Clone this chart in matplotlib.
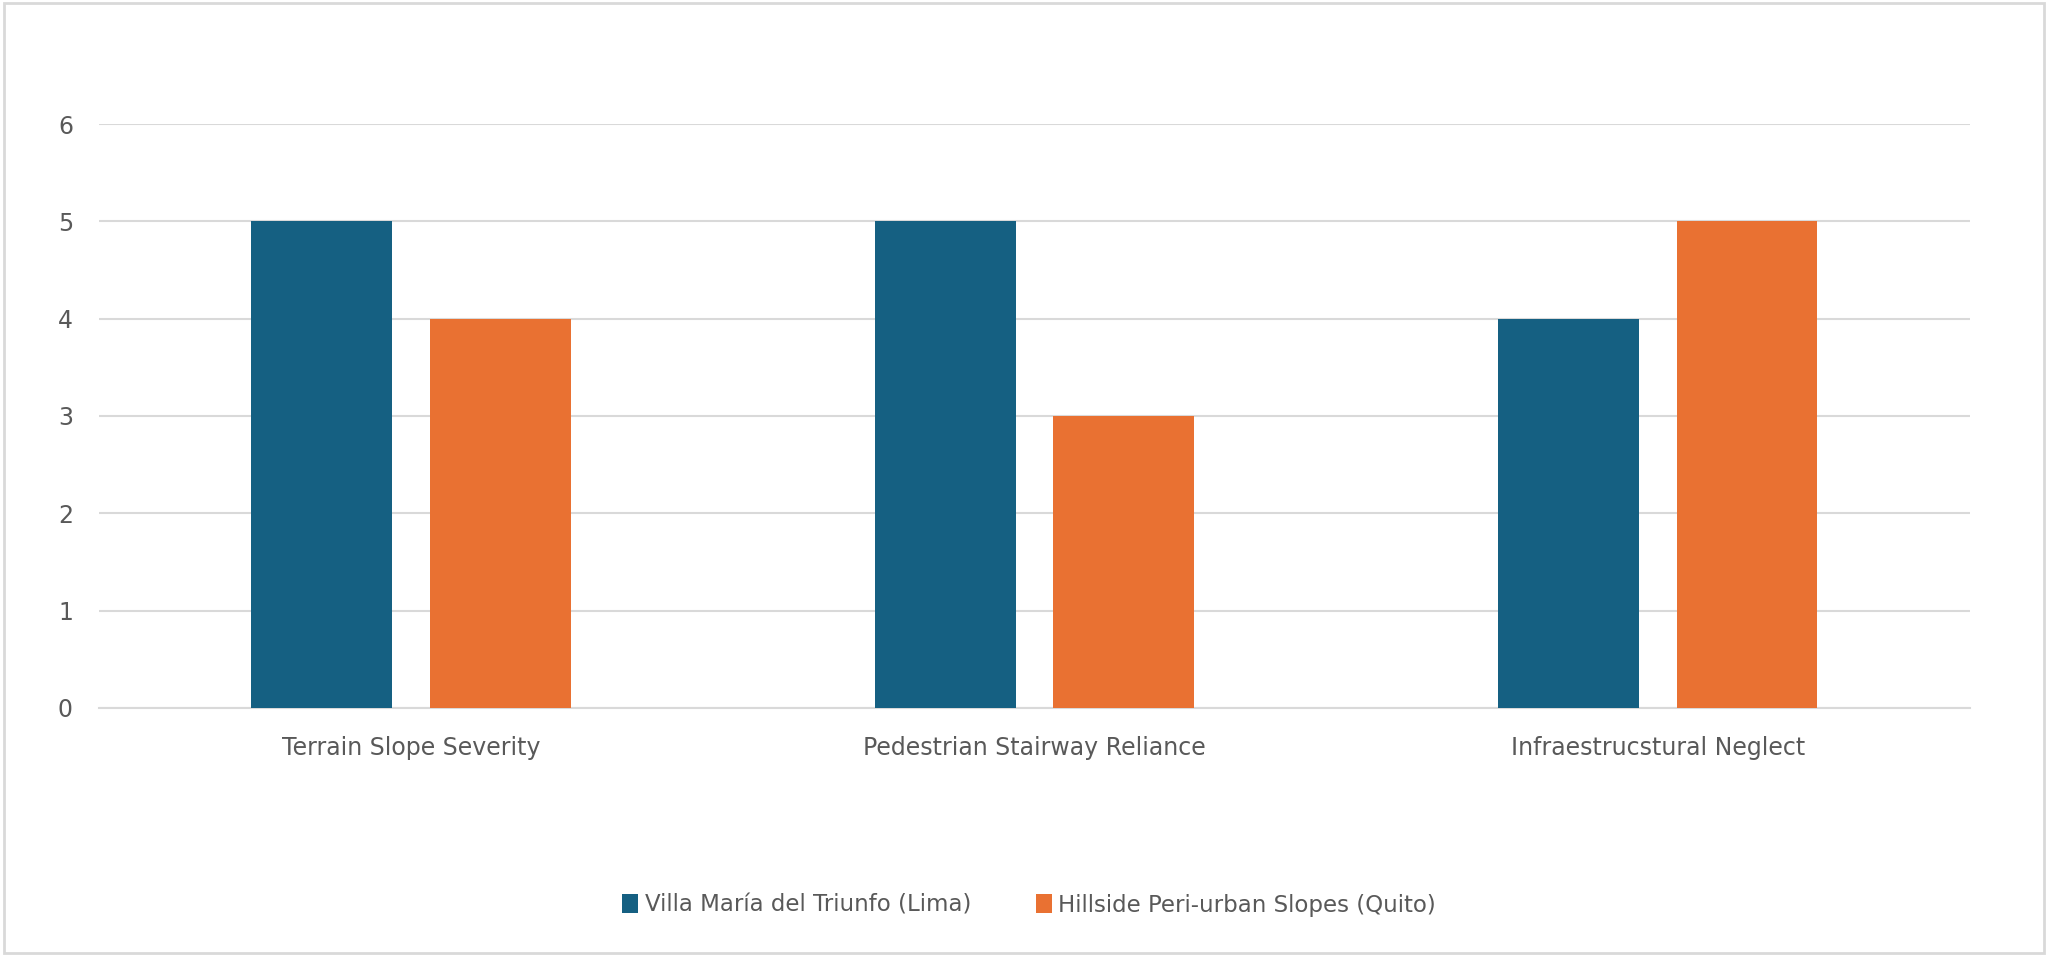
import matplotlib
matplotlib.use("Agg")
import matplotlib.pyplot as plt
import numpy as np
from matplotlib.patches import Rectangle

categories = ["Terrain Slope Severity", "Pedestrian Stairway Reliance", "Infraestrucstural Neglect"]
series_names = ["Villa María del Triunfo (Lima)", "Hillside Peri-urban Slopes (Quito)"]
lima_values = [5, 5, 4]
quito_values = [4, 3, 5]
y_ticks = [0, 1, 2, 3, 4, 5, 6]

colors = ["#156082", "#E97132"]
text_color = "#595959"
grid_color = "#D9D9D9"

plt.rcParams['font.family'] = ['Liberation Sans Narrow', 'DejaVu Sans']

fig = plt.figure(figsize=(20.48, 9.56), dpi=100)
ax = fig.add_axes([0.0485, 0.2596, 0.9132, 0.6106])

x = np.arange(len(categories))
bw = 0.226
off = 0.143
ax.bar(x - off, lima_values, width=bw, color=colors[0], label=series_names[0], zorder=3)
ax.bar(x + off, quito_values, width=bw, color=colors[1], label=series_names[1], zorder=3)

ax.set_xlim(-0.5, len(categories) - 0.5)
ax.set_ylim(0, 6)
ax.set_yticks(y_ticks)
ax.set_xticks(x)
ax.set_xticklabels(categories)
ax.yaxis.grid(True, color=grid_color, linewidth=1.5, zorder=0)
ax.set_axisbelow(True)
for s in ["top", "right", "left"]:
    ax.spines[s].set_visible(False)
ax.spines["bottom"].set_color(grid_color)
ax.spines["bottom"].set_linewidth(1.5)
ax.tick_params(axis="both", length=0, labelcolor=text_color, labelsize=17)
ax.tick_params(axis="x", pad=20)
ax.tick_params(axis="y", pad=19)

leg = fig.legend(loc="center", bbox_to_anchor=(0.5025, 0.053), ncol=2, frameon=False,
                 fontsize=16.5, handlelength=0.7, handleheight=0.9, handletextpad=0.3,
                 columnspacing=2.8, labelcolor=text_color)

fig.patches.append(Rectangle((0.002, 0.003), 0.996, 0.994, transform=fig.transFigure,
                             fill=False, edgecolor=grid_color, linewidth=2))

fig.savefig("out.png", dpi=100, facecolor="white")
